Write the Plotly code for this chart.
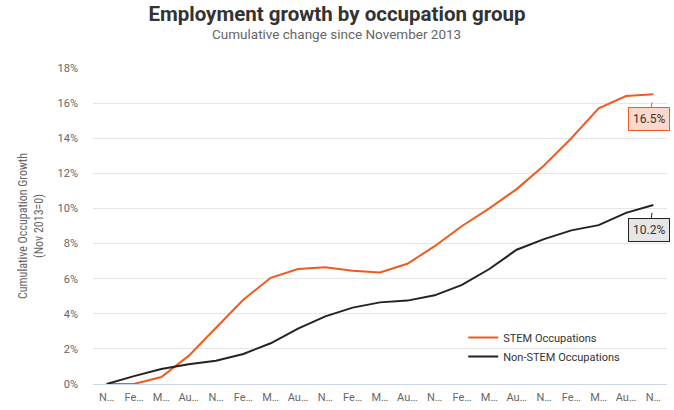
import plotly.graph_objects as go

quarters = ["Nov 2013", "Feb 2014", "May 2014", "Aug 2014", "Nov 2014", "Feb 2015", "May 2015",
            "Aug 2015", "Nov 2015", "Feb 2016", "May 2016", "Aug 2016", "Nov 2016", "Feb 2017",
            "May 2017", "Aug 2017", "Nov 2017", "Feb 2018", "May 2018", "Aug 2018", "Nov 2018"]
tick_text = ["N…", "Fe…", "M…", "Au…"] * 5 + ["N…"]

stem = [0, 0, 0.4, 1.6, 3.2, 4.8, 6.05, 6.55, 6.65, 6.45, 6.35, 6.85, 7.85, 9.0, 10.0,
        11.1, 12.45, 14.0, 15.7, 16.4, 16.5]
non_stem = [0, 0.45, 0.85, 1.13, 1.33, 1.71, 2.32, 3.15, 3.85, 4.35, 4.65, 4.75, 5.05, 5.65,
            6.55, 7.65, 8.25, 8.75, 9.05, 9.75, 10.2]

orange = "#f05a1e"
dark = "#222222"

fig = go.Figure()
fig.add_trace(go.Scatter(x=quarters, y=stem, mode="lines", name="STEM Occupations",
                         line=dict(color=orange, width=2)))
fig.add_trace(go.Scatter(x=quarters, y=non_stem, mode="lines", name="Non-STEM Occupations",
                         line=dict(color=dark, width=2)))

# callout labels at the last point
for vals, border, fill in [(stem, orange, "#fcd8ca"), (non_stem, dark, "#e6e6e6")]:
    fig.add_annotation(x=quarters[-1], y=vals[-1], text=f"{vals[-1]:.1f}%",
                       showarrow=True, arrowhead=0, arrowwidth=1, arrowcolor=border,
                       ax=-4, ay=25, standoff=8,
                       bgcolor=fill, bordercolor=border, borderwidth=1, borderpad=4,
                       font=dict(family="Roboto", size=12, color="#333333"))

# subtitle
fig.add_annotation(text="Cumulative change since November 2013", xref="paper", yref="paper",
                   x=0.425, y=1.108, xanchor="center", yanchor="middle", showarrow=False,
                   font=dict(family="Roboto", size=13.5, color="#666666"))

fig.update_layout(
    width=674, height=410,
    margin=dict(l=93, r=7, t=68, b=26, autoexpand=False),
    paper_bgcolor="white", plot_bgcolor="white",
    font=dict(family="Roboto", color="#666666"),
    title=dict(text="<b>Employment growth by occupation group</b>",
               x=0.5, xanchor="center", yref="container", y=0.967, yanchor="middle",
               font=dict(family="Roboto", size=20.5, color="#333333")),
    showlegend=True,
    legend=dict(x=0.645, y=0.117, xanchor="left", yanchor="middle", bgcolor="rgba(0,0,0,0)",
                font=dict(family="Roboto", size=11, color="#333333"),
                tracegroupgap=0, itemwidth=30),
)
fig.update_xaxes(type="category", range=[-0.5, 20.5], tickvals=quarters, ticktext=tick_text,
                 showgrid=False, showline=True, linecolor="#ccd6eb", linewidth=1,
                 ticks="", ticklabelstandoff=3, tickfont=dict(size=11, color="#666666"),
                 zeroline=False, automargin=False)
fig.update_yaxes(range=[0, 18], dtick=2, ticksuffix="%", showgrid=True, gridcolor="#e6e6e6",
                 zeroline=False, ticks="", ticklabelstandoff=14,
                 tickfont=dict(size=11, color="#666666"), automargin=False,
                 title=dict(text="Cumulative Occupation Growth<br>(Nov 2013=0)",
                            font=dict(family="Roboto Condensed, Roboto", size=12, color="#666666"),
                            standoff=11))

# page without the default body margin
fig.write_html("out.html", config={"displayModeBar": False},
               post_script="document.body.style.margin='0';")
